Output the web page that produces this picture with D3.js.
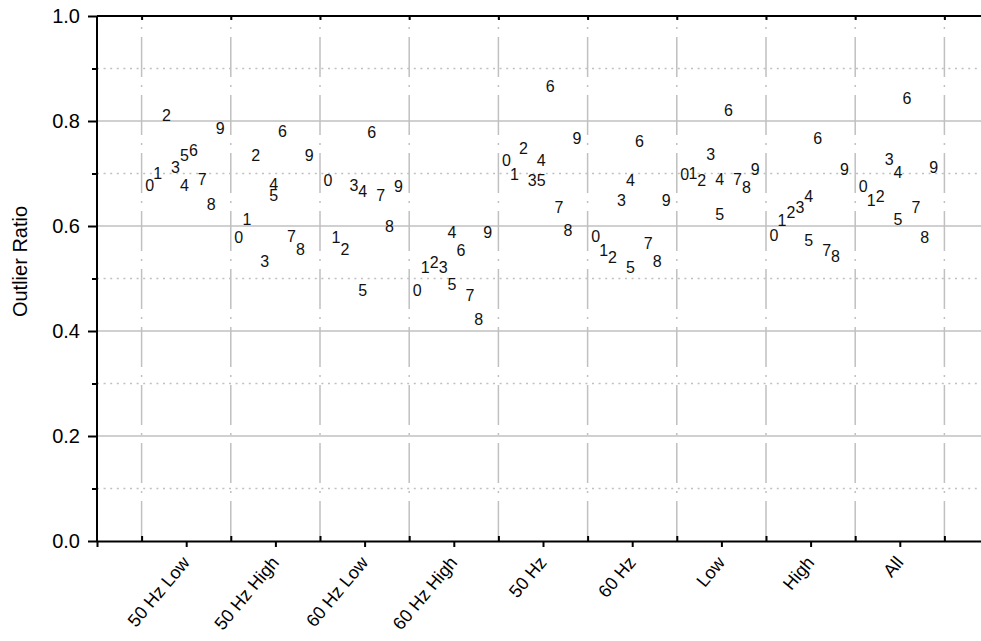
<!DOCTYPE html>
<html>
<head>
<meta charset="utf-8">
<script src="https://cdn.jsdelivr.net/npm/d3@7"></script>
<style>
body { margin: 0; background: #fff; }
text { font-family: Arial, "Liberation Sans", sans-serif; }
</style>
</head>
<body>
<div id="chart"></div>
<script>
// categories (placed at x = 1..9)
var groups = ["50 Hz Low", "50 Hz High", "60 Hz Low", "60 Hz High", "50 Hz", "60 Hz", "Low", "High", "All"];
// horizontal offset of each digit label inside its group, from group start (x - 0.5)
var digitOffsets = [0.09, 0.18, 0.28, 0.38, 0.48, 0.48, 0.58, 0.68, 0.78, 0.88];
// outlier ratio for digits 0..9
var ratio50Low  = [0.677, 0.700, 0.811, 0.711, 0.677, 0.734, 0.745, 0.689, 0.642, 0.787];
var ratio50High = [0.578, 0.613, 0.734, 0.532, 0.679, 0.658, 0.780, 0.580, 0.556, 0.734];
var ratio60Low  = [0.688, 0.578, 0.556, 0.678, 0.667, 0.478, 0.778, 0.658, 0.600, 0.676];
var ratio60High = [0.478, 0.521, 0.531, 0.521, 0.588, 0.490, 0.554, 0.468, 0.422, 0.588];
var ratio50     = [0.726, 0.699, 0.748, 0.688, 0.726, 0.688, 0.867, 0.636, 0.592, 0.767];
var ratio60     = [0.581, 0.554, 0.540, 0.650, 0.688, 0.521, 0.761, 0.567, 0.532, 0.650];
var ratioLow    = [0.699, 0.700, 0.688, 0.737, 0.689, 0.622, 0.821, 0.690, 0.674, 0.708];
var ratioHigh   = [0.582, 0.611, 0.627, 0.636, 0.657, 0.573, 0.767, 0.553, 0.543, 0.708];
var ratioAll    = [0.676, 0.650, 0.656, 0.727, 0.703, 0.613, 0.844, 0.636, 0.578, 0.711];
var yMajorTicks = [0, 0.2, 0.4, 0.6, 0.8, 1.0];
var yMinorTicks = [0.1, 0.3, 0.5, 0.7, 0.9];

var allRatios = [ratio50Low, ratio50High, ratio60Low, ratio60High, ratio50, ratio60, ratioLow, ratioHigh, ratioAll];

var margin = {top: 16, right: -8, bottom: 100, left: 97};
var width = 981 - margin.left - margin.right;
var height = 641 - margin.top - margin.bottom;

var x = d3.scaleLinear().domain([0, 10]).range([0, width]);
var y = d3.scaleLinear().domain([0, 1]).range([height, 0]);

var svg = d3.select("#chart").append("svg")
    .attr("width", 981)
    .attr("height", 641)
    .append("g")
    .attr("transform", "translate(" + margin.left + "," + margin.top + ")");

var gridColor = "#c0c0c0";
var sepTicks = d3.range(0.5, 10, 1);

// horizontal grid
svg.selectAll(".hmajor")
    .data([0.2, 0.4, 0.6, 0.8])
    .enter().append("line")
    .attr("x1", 0).attr("x2", width)
    .attr("y1", d => y(d)).attr("y2", d => y(d))
    .attr("stroke", gridColor)
    .attr("stroke-width", 1.5);

svg.selectAll(".hminor")
    .data(yMinorTicks)
    .enter().append("line")
    .attr("x1", 0).attr("x2", width)
    .attr("y1", d => y(d)).attr("y2", d => y(d))
    .attr("stroke", gridColor)
    .attr("stroke-width", 1.5)
    .attr("stroke-dasharray", "2,4.6");

// vertical dash-dot separators, drawn bottom to top
svg.selectAll(".vsep")
    .data(sepTicks)
    .enter().append("line")
    .attr("x1", d => x(d)).attr("x2", d => x(d))
    .attr("y1", height).attr("y2", 0)
    .attr("stroke", gridColor)
    .attr("stroke-width", 1.5)
    .attr("stroke-dasharray", "40,8,2,8");

// digit labels
allRatios.forEach(function(vals, g) {
    svg.selectAll(".lab" + g)
        .data(vals)
        .enter().append("text")
        .attr("x", (d, i) => x(g + 0.5 + digitOffsets[i]))
        .attr("y", d => y(d))
        .attr("dy", "0.36em")
        .attr("text-anchor", "middle")
        .style("font-size", "16px")
        .attr("fill", "#111")
        .text((d, i) => i);
});

// bottom axis
var xAxis = svg.append("g")
    .attr("transform", "translate(0," + height + ")")
    .call(d3.axisBottom(x).tickValues(d3.range(1, 10)).tickSize(6).tickFormat((d, i) => groups[i]));
xAxis.select(".domain").attr("stroke-width", 2);
xAxis.selectAll(".tick line").attr("stroke-width", 2);
xAxis.selectAll("text")
    .style("font-size", "18px")
    .attr("fill", "#000")
    .attr("x", 0)
    .attr("y", 0)
    .attr("dy", 0)
    .attr("text-anchor", "end")
    .attr("transform", "translate(4,22)rotate(-50)");

// inner minor ticks at the separators (bottom and top)
svg.append("g")
    .attr("transform", "translate(0," + height + ")")
    .call(d3.axisBottom(x).tickValues(sepTicks).tickSize(-5).tickFormat(""))
    .call(g => g.select(".domain").remove())
    .selectAll("line").attr("stroke-width", 2);

svg.append("g")
    .call(d3.axisTop(x).tickValues(sepTicks).tickSize(-4).tickFormat(""))
    .call(g => g.select(".domain").remove())
    .selectAll("line").attr("stroke-width", 2);

svg.append("line")
    .attr("x1", 0).attr("x2", width)
    .attr("y1", 0).attr("y2", 0)
    .attr("stroke", "#000")
    .attr("stroke-width", 2);

// left axis
var yAxis = svg.append("g")
    .call(d3.axisLeft(y).tickValues(yMajorTicks).tickSize(9).tickPadding(8).tickFormat(d3.format(".1f")));
yAxis.select(".domain").attr("stroke-width", 2).attr("d", "M0," + height + "V0");
yAxis.selectAll(".tick line").attr("stroke-width", 2);
yAxis.selectAll("text").style("font-size", "20px").attr("fill", "#000");

svg.append("g")
    .call(d3.axisLeft(y).tickValues(yMinorTicks).tickSize(5).tickFormat(""))
    .call(g => g.select(".domain").remove())
    .selectAll("line").attr("stroke-width", 2);

svg.append("text")
    .attr("transform", "rotate(-90)")
    .attr("x", -height / 2 + 17)
    .attr("y", -margin.left + 20)
    .attr("dy", "0.35em")
    .attr("text-anchor", "middle")
    .style("font-size", "20px")
    .text("Outlier Ratio");
</script>
</body>
</html>
